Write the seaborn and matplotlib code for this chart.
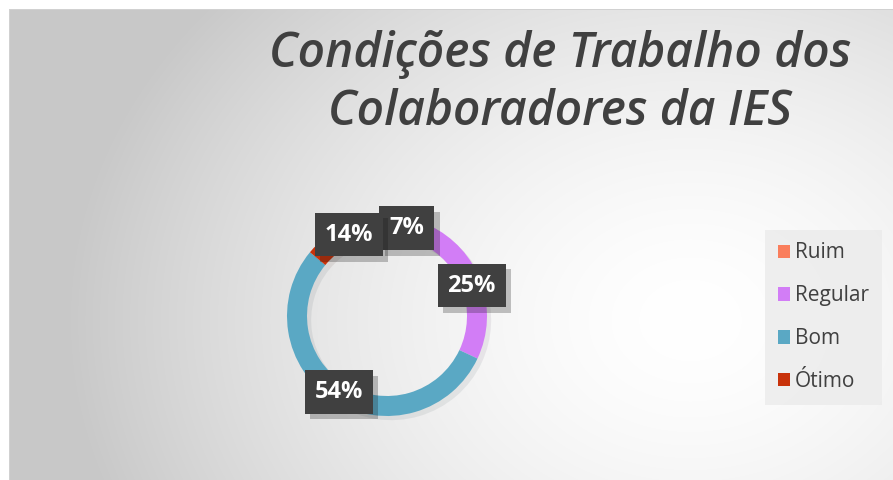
import numpy as np
import matplotlib
matplotlib.use("Agg")
import matplotlib.pyplot as plt
import matplotlib.patheffects as pe
from matplotlib.patches import Patch
import seaborn as sns

# --- data ---
categories = ["Ruim", "Regular", "Bom", "Ótimo"]
shares = [7, 25, 54, 14]
colors = ["#FA7E5C", "#D27DF6", "#5AA8C4", "#C8320A"]
title = "Condições de Trabalho dos\nColaboradores da IES"

sns.set_theme(style="white")
plt.rcParams["font.family"] = ["Open Sans", "DejaVu Sans"]

W, H = 893, 480
fig = plt.figure(figsize=(W / 100, H / 100), dpi=100)

# --- background panel with radial gradient ---
bg = fig.add_axes([0, 0, 1, 1])
yy, xx = np.mgrid[0:H, 0:W]
d = np.sqrt(((xx - 690) / 540) ** 2 + ((yy - 320) / 430) ** 2)
shade = 1 - 0.17 * np.clip(d, 0, 1.15) ** 1.6
img = np.dstack([shade] * 3)
img[:9, :, :] = 1.0
img[:, :9, :] = 1.0
img[9, 9:, :] = 0.82
img[9:, 9, :] = 0.82
bg.imshow(img, extent=[0, W, H, 0], aspect="auto")
bg.set_xlim(0, W)
bg.set_ylim(H, 0)
bg.axis("off")

bg.text(560, 125, title, ha="center", va="baseline", fontsize=34.5,
        style="italic", fontweight="semibold", color="#404040",
        linespacing=1.24, multialignment="center")

# --- donut ---
cx, cy, r = 387, 316, 100
ax = fig.add_axes([(cx - r) / W, 1 - (cy + r) / H, 2 * r / W, 2 * r / H])
wedges, _ = ax.pie(shares, colors=colors, startangle=90, counterclock=False,
                   radius=1, wedgeprops=dict(width=0.2, linewidth=0))
for w in wedges:
    w.set_path_effects([pe.SimplePatchShadow(offset=(3, -3), alpha=0.08), pe.Normal()])
ax.set_xlim(-1, 1)
ax.set_ylim(-1, 1)
ax.set_aspect("equal")
ax.axis("off")

# data labels on the ring
for w, v in zip(wedges, shares):
    mid = np.deg2rad((w.theta1 + w.theta2) / 2)
    t = ax.text(0.9 * np.cos(mid), 0.9 * np.sin(mid), f"{v}%", ha="center", va="center",
                fontsize=17, fontweight="bold", color="white", zorder=5,
                bbox=dict(boxstyle="square,pad=0.42", fc="#404040", ec="none"))
    t.get_bbox_patch().set_path_effects(
        [pe.SimplePatchShadow(offset=(4, -4), alpha=0.25), pe.Normal()])

# --- legend ---
handles = [Patch(facecolor=c, edgecolor="none") for c in colors]
leg = fig.legend(handles, categories, loc="upper left", bbox_to_anchor=(765 / W, 1 - 230 / H),
                 frameon=True, fontsize=15, handlelength=0.6, handleheight=0.6,
                 handletextpad=0.25, labelspacing=1.05, borderpad=0.6,
                 borderaxespad=0, fancybox=False)
leg.get_frame().set_facecolor("#EBEBEB")
leg.get_frame().set_edgecolor("none")
for txt in leg.get_texts():
    txt.set_color("#404040")

fig.savefig("out.png", dpi=100)
